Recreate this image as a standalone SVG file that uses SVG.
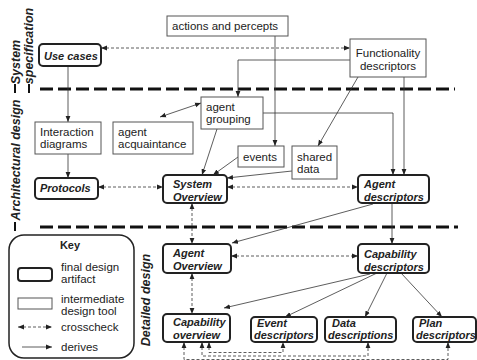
<svg xmlns="http://www.w3.org/2000/svg" width="477" height="360" viewBox="0 0 477 360">
<style>
text{font-family:"Liberation Sans",Arial,sans-serif;fill:#222}
.t{font-size:11.5px}
.b{font-size:11px;font-weight:bold;font-style:italic}
.lab{font-size:12.5px;font-weight:bold;font-style:italic}
.p{fill:#fff;stroke:#555;stroke-width:1}
.f{fill:#fff;stroke:#222;stroke-width:2}
.c{fill:none;stroke:#333;stroke-width:0.8}
.d{fill:none;stroke:#333;stroke-width:0.8;stroke-dasharray:3 2}
.sep{stroke:#111;stroke-width:3;stroke-dasharray:13 5;fill:none}
</style>
<defs>
<marker id="a" viewBox="0 0 10 10" refX="10" refY="5" markerWidth="6" markerHeight="6" markerUnits="userSpaceOnUse" orient="auto-start-reverse"><path d="M0,1 L10,5 L0,9 z" fill="#222"/></marker>
</defs>
<rect width="477" height="360" fill="#fff"/>
<g id="separators">
<line class="sep" x1="40" y1="89" x2="455" y2="89"/>
<line class="sep" x1="40" y1="227" x2="458" y2="227"/>
<line x1="15" y1="84" x2="15" y2="93" stroke="#111" stroke-width="2"/>
<line x1="29" y1="84" x2="29" y2="93" stroke="#111" stroke-width="2"/>
<line x1="15" y1="222" x2="15" y2="231" stroke="#111" stroke-width="2"/>
</g>
<g id="phase-labels">
<text class="lab" transform="translate(20,62) rotate(-90)" text-anchor="middle">System</text>
<text class="lab" transform="translate(33,46) rotate(-90)" text-anchor="middle">specification</text>
<text class="lab" transform="translate(20,160) rotate(-90)" text-anchor="middle">Architectural design</text>
<text class="lab" transform="translate(150,300) rotate(-90)" text-anchor="middle">Detailed design</text>
</g>
<g id="connectors">
<line class="d" x1="101" y1="48" x2="350" y2="48" marker-start="url(#a)" marker-end="url(#a)"/>
<line class="c" x1="275" y1="36" x2="275" y2="146" marker-end="url(#a)"/>
<path class="c" d="M350,60 H238 V97" marker-end="url(#a)"/>
<line class="c" x1="358" y1="77" x2="318" y2="146" marker-end="url(#a)"/>
<line class="c" x1="404" y1="77" x2="404" y2="175" marker-end="url(#a)"/>
<path class="c" d="M263,113 H393 V175" marker-end="url(#a)"/>
<line class="c" x1="201" y1="103" x2="160" y2="117" marker-start="url(#a)" marker-end="url(#a)"/>
<line class="c" x1="217" y1="129" x2="202" y2="175" marker-end="url(#a)"/>
<line class="c" x1="238" y1="157" x2="213" y2="175" marker-end="url(#a)"/>
<line class="c" x1="292" y1="171" x2="227" y2="178" marker-end="url(#a)"/>
<line class="c" x1="68" y1="66" x2="68" y2="122" marker-end="url(#a)"/>
<line class="c" x1="68" y1="154" x2="68" y2="178" marker-end="url(#a)"/>
<line class="d" x1="98" y1="187" x2="163" y2="187" marker-start="url(#a)" marker-end="url(#a)"/>
<line class="d" x1="227" y1="187" x2="358" y2="187" marker-start="url(#a)" marker-end="url(#a)"/>
<line class="d" x1="192" y1="203" x2="192" y2="244" marker-start="url(#a)" marker-end="url(#a)"/>
<line class="c" x1="373" y1="204" x2="232" y2="243" marker-end="url(#a)"/>
<line class="c" x1="392" y1="203" x2="392" y2="244" marker-end="url(#a)"/>
<line class="d" x1="231" y1="256" x2="358" y2="256" marker-start="url(#a)" marker-end="url(#a)"/>
<line class="d" x1="192" y1="273" x2="192" y2="314" marker-start="url(#a)" marker-end="url(#a)"/>
<line class="c" x1="370" y1="274" x2="224" y2="308" marker-end="url(#a)"/>
<line class="c" x1="377" y1="273" x2="285" y2="317" marker-end="url(#a)"/>
<line class="c" x1="387" y1="273" x2="365" y2="317" marker-end="url(#a)"/>
<line class="c" x1="401" y1="273" x2="442" y2="317" marker-end="url(#a)"/>
<path class="d" d="M209,342 V352.5 H283 V342" marker-start="url(#a)" marker-end="url(#a)"/>
<path class="d" d="M202,342 V356 H368 V342" marker-start="url(#a)" marker-end="url(#a)"/>
<path class="d" d="M184,342 V359.5 H448 V342" marker-start="url(#a)" marker-end="url(#a)"/>
</g>
<g id="actions-percepts"><rect class="p" x="167" y="16" width="121" height="20"/><text class="t" x="172" y="30">actions and percepts</text></g>
<g id="use-cases"><rect class="f" x="39" y="44" width="62" height="22" rx="4"/><text class="b" x="44" y="59.5">Use cases</text></g>
<g id="functionality-descriptors"><rect class="p" x="350" y="39" width="76" height="38"/><text class="t" x="388" y="57" text-anchor="middle">Functionality</text><text class="t" x="388" y="70" text-anchor="middle">descriptors</text></g>
<g id="agent-grouping"><rect class="p" x="201" y="97" width="62" height="32"/><text class="t" x="206" y="111">agent</text><text class="t" x="206" y="123">grouping</text></g>
<g id="interaction-diagrams"><rect class="p" x="35" y="122" width="66" height="32"/><text class="t" x="40" y="136">Interaction</text><text class="t" x="40" y="148">diagrams</text></g>
<g id="agent-acquaintance"><rect class="p" x="113" y="122" width="80" height="32"/><text class="t" x="118" y="136">agent</text><text class="t" x="118" y="148">acquaintance</text></g>
<g id="events"><rect class="p" x="238" y="146" width="46" height="21"/><text class="t" x="243" y="161">events</text></g>
<g id="shared-data"><rect class="p" x="292" y="146" width="45" height="33"/><text class="t" x="297" y="161">shared</text><text class="t" x="297" y="173">data</text></g>
<g id="protocols"><rect class="f" x="35" y="178" width="63" height="21" rx="4"/><text class="b" x="40" y="192">Protocols</text></g>
<g id="system-overview"><rect class="f" x="163" y="175" width="64" height="28" rx="4"/><text class="b" x="173" y="188">System</text><text class="b" x="173" y="200.5">Overview</text></g>
<g id="agent-descriptors"><rect class="f" x="358" y="175" width="71" height="28" rx="4"/><text class="b" x="364" y="188">Agent</text><text class="b" x="364" y="200.5">descriptors</text></g>
<g id="agent-overview"><rect class="f" x="163" y="244" width="68" height="29" rx="4"/><text class="b" x="173" y="257">Agent</text><text class="b" x="173" y="270">Overview</text></g>
<g id="capability-descriptors"><rect class="f" x="358" y="244" width="71" height="29" rx="4"/><text class="b" x="364" y="258">Capability</text><text class="b" x="364" y="271">descriptors</text></g>
<g id="capability-overview"><rect class="f" x="163" y="314" width="67" height="28" rx="4"/><text class="b" x="173" y="326">Capability</text><text class="b" x="173" y="339">overview</text></g>
<g id="event-descriptors"><rect class="f" x="251" y="317" width="66" height="25" rx="4"/><text class="b" x="257" y="327">Event</text><text class="b" x="254" y="339">descriptors</text></g>
<g id="data-descriptions"><rect class="f" x="325" y="317" width="71" height="25" rx="4"/><text class="b" x="332" y="327">Data</text><text class="b" x="328" y="339">descriptions</text></g>
<g id="plan-descriptors"><rect class="f" x="413" y="317" width="63" height="25" rx="4"/><text class="b" x="419" y="327">Plan</text><text class="b" x="416" y="339">descriptors</text></g>
<g id="key">
<rect x="9" y="235" width="125" height="123" rx="15" fill="#fff" stroke="#222" stroke-width="1.5"/>
<text x="70" y="249" text-anchor="middle" style="font-size:11px;font-weight:bold">Key</text>
<rect class="f" x="18" y="268" width="34" height="13" rx="3"/>
<text class="t" x="61" y="271">final design</text><text class="t" x="61" y="283">artifact</text>
<rect class="p" x="18" y="298" width="34" height="11"/>
<text class="t" x="61" y="303">intermediate</text><text class="t" x="61" y="315">design tool</text>
<line class="d" x1="18" y1="327" x2="52" y2="327" marker-start="url(#a)" marker-end="url(#a)"/>
<text class="t" x="61" y="331">crosscheck</text>
<line class="c" x1="22" y1="347" x2="52" y2="347" marker-end="url(#a)"/>
<text class="t" x="61" y="351">derives</text>
</g>
</svg>
